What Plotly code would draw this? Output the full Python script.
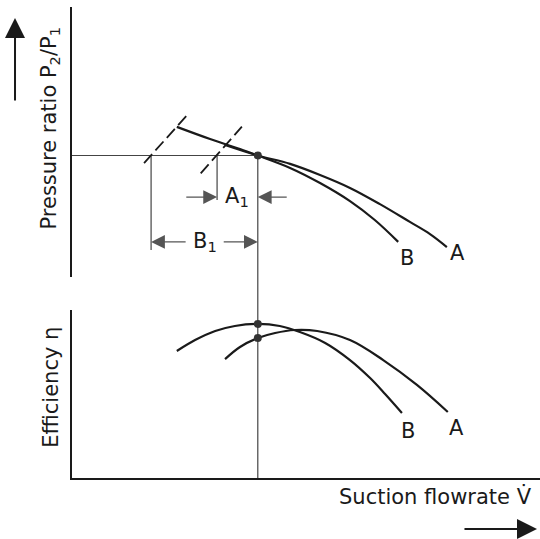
import plotly.graph_objects as go

# ---- data (schematic units: flow 0-100, pressure ratio 0-100, efficiency 0-100) ----
op_flow = 39.7
op_pressure = 45.0

pB_flow = [22.4, 29.5, 35.9, 39.7, 46.6, 53.0, 59.4, 64.7, 69.7]
pB_val = [55.6, 51.1, 47.4, 45.0, 40.4, 34.8, 28.1, 21.1, 13.0]

pA_flow = [32.7, 39.7, 46.6, 53.0, 59.4, 65.8, 72.2, 76.5, 80.1]
pA_val = [48.9, 45.0, 41.9, 37.8, 33.0, 27.0, 20.4, 15.9, 11.1]

surgeB_flow = [15.4, 25.0]
surgeB_val = [42.2, 60.7]
surgeA_flow = [27.5, 36.3]
surgeA_val = [38.4, 55.7]

B1_flow = 16.9
A1_flow = 31.0
A1_level = 29.6
B1_level = 13.0
A1_bottom = 28.5
B1_bottom = 10.0

eB_flow = [22.4, 26.3, 30.6, 34.8, 39.7, 44.4, 48.7, 54.1, 59.4, 63.7, 66.9, 70.5]
eB_val = [75.6, 82.1, 87.5, 90.5, 91.7, 90.5, 86.9, 80.4, 70.2, 59.5, 50.0, 38.7]

eA_flow = [32.7, 35.9, 39.7, 43.4, 47.6, 52.4, 59.4, 66.5, 73.7, 80.3]
eA_val = [70.8, 78.0, 83.3, 86.3, 88.1, 87.5, 82.1, 70.2, 55.4, 39.3]

eff_op_B = 91.7
eff_op_A = 83.3

INK = "#1a1a1a"
THIN = "#444444"
FONT = dict(family="DejaVu Sans", size=21, color=INK)

fig = go.Figure()

def line(x, y, xa="x", ya="y", width=1.2, color=THIN, dash=None, shape="linear"):
    fig.add_trace(go.Scatter(x=x, y=y, mode="lines", xaxis=xa, yaxis=ya,
                             line=dict(width=width, color=color, dash=dash, shape=shape),
                             hoverinfo="skip", showlegend=False))

# pressure panel
line([0, op_flow], [op_pressure, op_pressure])
line([op_flow, op_flow], [op_pressure, 0])
line([B1_flow, B1_flow], [op_pressure, B1_bottom])
line([A1_flow, A1_flow], [op_pressure, A1_bottom])
line(surgeB_flow, surgeB_val, width=1.8, color=INK, dash="12px,5px")
line(surgeA_flow, surgeA_val, width=1.8, color=INK, dash="12px,5px")
line(pB_flow, pB_val, width=2.2, color=INK, shape="spline")
line(pA_flow, pA_val, width=2.2, color=INK, shape="spline")
fig.add_trace(go.Scatter(x=[op_flow], y=[op_pressure], mode="markers",
                         marker=dict(size=8, color="#333"), showlegend=False, hoverinfo="skip"))

# efficiency panel
line([op_flow, op_flow], [100, 0], xa="x2", ya="y2")
line(eB_flow, eB_val, xa="x2", ya="y2", width=2.2, color=INK, shape="spline")
line(eA_flow, eA_val, xa="x2", ya="y2", width=2.2, color=INK, shape="spline")
fig.add_trace(go.Scatter(x=[op_flow, op_flow], y=[eff_op_B, eff_op_A], mode="markers",
                         xaxis="x2", yaxis="y2",
                         marker=dict(size=8, color="#333"), showlegend=False, hoverinfo="skip"))

top_dom = [0.4861, 0.9870]
bot_dom = [0.11317, 0.42486]
x_dom = [0.13333, 1.0]

# bridge of the vertical operating line between the panels
fig.add_shape(type="line", xref="x", yref="paper", x0=op_flow, x1=op_flow,
              y0=bot_dom[1], y1=top_dom[0], line=dict(width=1.2, color=THIN))

ann = []
def arrow(xh, yh, xt, yt, xref="x", yref="y"):
    ann.append(dict(x=xh, y=yh, ax=xt, ay=yt, xref=xref, yref=yref, axref=xref, ayref=yref,
                    text="", showarrow=True, arrowhead=2, arrowsize=2.3, arrowwidth=1.2,
                    arrowcolor="#555", standoff=0))

arrow(A1_flow, A1_level, 24.1, A1_level)
arrow(op_flow, A1_level, 46.2, A1_level)
arrow(B1_flow, B1_level, 24.6, B1_level)
arrow(op_flow, B1_level, 32.1, B1_level)

def label(x, y, t, xref="x", yref="y"):
    ann.append(dict(x=x, y=y, xref=xref, yref=yref, text=t, showarrow=False, font=FONT,
                    xanchor="center", yanchor="middle"))

label(35.3, A1_level, "A<sub>1</sub>")
label(28.4, B1_level, "B<sub>1</sub>")
label(71.6, 7.0, "B")
label(82.3, 8.9, "A")
label(71.8, 28.0, "B", "x2", "y2")
label(82.1, 29.8, "A", "x2", "y2")

label(0.093, 0.762, "Pressure ratio P<sub>2</sub>/P<sub>1</sub>", "paper", "paper")
ann[-1]["textangle"] = -90
label(0.094, 0.282, "Efficiency η", "paper", "paper")
ann[-1]["textangle"] = -90
label(0.807, 0.078, "Suction flowrate V\u0307", "paper", "paper")

# direction arrows
ann.append(dict(x=0.0278, y=0.9666, ax=0, ay=84, xref="paper", yref="paper",
                axref="pixel", ayref="pixel", text="", showarrow=True, arrowhead=2,
                arrowsize=2.0, arrowwidth=2.0, arrowcolor=INK, standoff=0))
ann.append(dict(x=0.9944, y=0.0186, ax=-74, ay=0, xref="paper", yref="paper",
                axref="pixel", ayref="pixel", text="", showarrow=True, arrowhead=2,
                arrowsize=2.0, arrowwidth=2.0, arrowcolor=INK, standoff=0))

axis_common = dict(showgrid=False, zeroline=False, ticks="", showticklabels=False, range=[0, 100])
fig.update_layout(
    width=540, height=539, margin=dict(l=0, r=0, t=0, b=0),
    paper_bgcolor="white", plot_bgcolor="white",
    showlegend=False, annotations=ann,
    xaxis=dict(domain=x_dom, visible=False, range=[0, 100]),
    yaxis=dict(domain=top_dom, showline=True, linewidth=2, linecolor=INK, **axis_common),
    xaxis2=dict(domain=x_dom, anchor="y2", showline=True, linewidth=2, linecolor=INK, **axis_common),
    yaxis2=dict(domain=bot_dom, anchor="x2", showline=True, linewidth=2, linecolor=INK, **axis_common),
)

fig.write_html("out.html")
